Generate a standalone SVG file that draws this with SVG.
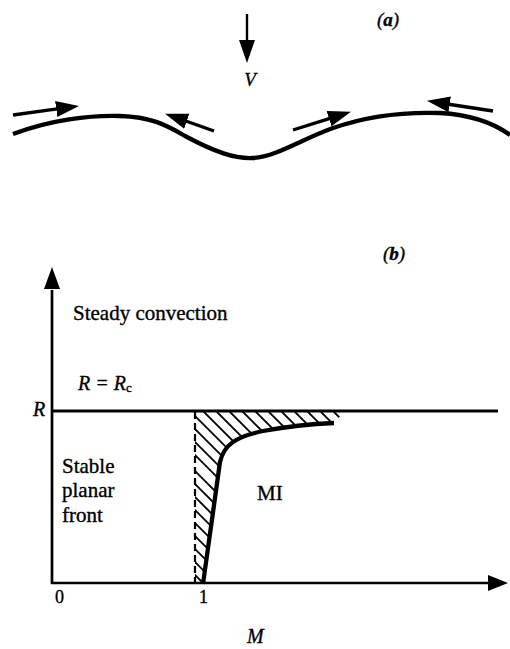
<svg xmlns="http://www.w3.org/2000/svg" width="510" height="649" viewBox="0 0 510 649">
<style>
  .t { font-family: "Liberation Serif", "Times New Roman", serif; fill: #000; stroke: #000; stroke-width: 0.35; }
  .it { font-style: italic; }
  .ln { stroke: #000; fill: none; }
</style>
<defs>
  <marker id="ah" markerUnits="userSpaceOnUse" markerWidth="26" markerHeight="18" refX="1" refY="8" orient="auto">
    <path d="M0,0 L23,8 L0,16 Z" fill="#000"/>
  </marker>
  <clipPath id="hclip">
    <path d="M195,411 L345,411 L334,423 C310,424 290,426 263,431 C235,437 224,445 220,462 L203,583 L195,583 Z"/>
  </clipPath>
</defs>
<rect width="510" height="649" fill="#fff"/>

<g id="panel-a">
  <text class="t it" x="377" y="26" font-size="19">(<tspan font-weight="bold">a</tspan>)</text>
  <g id="V-arrow">
    <line class="ln" x1="247" y1="14" x2="247" y2="41" stroke-width="2.4" marker-end="url(#ah)"/>
    <text class="t it" x="250" y="86" font-size="19" text-anchor="middle">V</text>
  </g>
  <g id="front">
    <path class="ln" stroke-width="4.3" d="M13,134 C50,120 90,115 120,116 C150,117 165,124 185,136 C215,152 235,159 253,158 C275,157 300,140 333,128 C370,115 410,112 440,113 C475,115 495,124 510,135"/>
  </g>
  <g id="flow-arrows">
    <line class="ln" stroke-width="3.4" x1="13" y1="115" x2="57.2" y2="108.9" marker-end="url(#ah)"/>
    <line class="ln" stroke-width="3.4" x1="214" y1="131" x2="185.8" y2="121" marker-end="url(#ah)"/>
    <line class="ln" stroke-width="3.4" x1="293" y1="130" x2="330" y2="118.3" marker-end="url(#ah)"/>
    <line class="ln" stroke-width="3.4" x1="493" y1="111" x2="448.7" y2="104.2" marker-end="url(#ah)"/>
  </g>
</g>

<g id="panel-b">
  <text class="t it" x="383" y="260" font-size="19">(<tspan font-weight="bold">b</tspan>)</text>
  <g id="axes">
    <line class="ln" stroke-width="2.7" x1="52" y1="584" x2="52" y2="290"/>
    <path d="M44,289 L52,267 L60,289 Z" fill="#000"/>
    <line class="ln" stroke-width="2.7" x1="51" y1="583" x2="489" y2="583"/>
    <path d="M488,575 L508,583 L488,591 Z" fill="#000"/>
  </g>
  <g id="critical-line">
    <line class="ln" stroke-width="3" x1="52" y1="411" x2="498" y2="411"/>
  </g>
  <g id="hatch">
    <g clip-path="url(#hclip)" class="ln" stroke-width="1.9">
      <line x1="-60" y1="320" x2="240" y2="620"/>
      <line x1="-47" y1="320" x2="253" y2="620"/>
      <line x1="-34" y1="320" x2="266" y2="620"/>
      <line x1="-21" y1="320" x2="279" y2="620"/>
      <line x1="-8" y1="320" x2="292" y2="620"/>
      <line x1="5" y1="320" x2="305" y2="620"/>
      <line x1="18" y1="320" x2="318" y2="620"/>
      <line x1="31" y1="320" x2="331" y2="620"/>
      <line x1="44" y1="320" x2="344" y2="620"/>
      <line x1="60" y1="320" x2="360" y2="620"/>
      <line x1="73" y1="320" x2="373" y2="620"/>
      <line x1="86" y1="320" x2="386" y2="620"/>
      <line x1="99" y1="320" x2="399" y2="620"/>
      <line x1="112" y1="320" x2="412" y2="620"/>
      <line x1="125" y1="320" x2="425" y2="620"/>
      <line x1="138" y1="320" x2="438" y2="620"/>
      <line x1="151" y1="320" x2="451" y2="620"/>
      <line x1="164" y1="320" x2="464" y2="620"/>
      <line x1="177" y1="320" x2="477" y2="620"/>
      <line x1="190" y1="320" x2="490" y2="620"/>
      <line x1="203" y1="320" x2="503" y2="620"/>
      <line x1="216" y1="320" x2="516" y2="620"/>
      <line x1="229" y1="320" x2="529" y2="620"/>
      <line x1="242" y1="320" x2="542" y2="620"/>
      <line x1="255" y1="320" x2="555" y2="620"/>
      <line x1="268" y1="320" x2="568" y2="620"/>
      <line x1="281" y1="320" x2="581" y2="620"/>
      <line x1="294" y1="320" x2="594" y2="620"/>
      <line x1="307" y1="320" x2="607" y2="620"/>
      <line x1="320" y1="320" x2="620" y2="620"/>
      <line x1="333" y1="320" x2="633" y2="620"/>
      <line x1="346" y1="320" x2="646" y2="620"/>
    </g>
    <line class="ln" stroke-width="2.2" stroke-dasharray="7 4" x1="195" y1="412" x2="195" y2="583"/>
  </g>
  <g id="MI-boundary">
    <path class="ln" stroke-width="4.3" d="M203,584 L220,462 C224,445 235,437 263,431 C290,426 310,424 334,423"/>
  </g>
  <g id="labels">
    <text class="t" x="73" y="320" font-size="21">Steady convection</text>
    <text class="t it" x="78" y="390" font-size="20">R = R<tspan font-style="normal" font-size="13" dy="2">c</tspan></text>
    <text class="t it" x="33" y="416" font-size="20">R</text>
    <text class="t" x="62" y="473" font-size="21">Stable</text>
    <text class="t" x="62" y="497" font-size="21">planar</text>
    <text class="t" x="62" y="522" font-size="21">front</text>
    <text class="t" x="257" y="500" font-size="21">MI</text>
    <text class="t" x="55" y="603" font-size="18">0</text>
    <text class="t" x="199" y="603" font-size="18">1</text>
    <text class="t it" x="247" y="643" font-size="20">M</text>
  </g>
</g>
</svg>
